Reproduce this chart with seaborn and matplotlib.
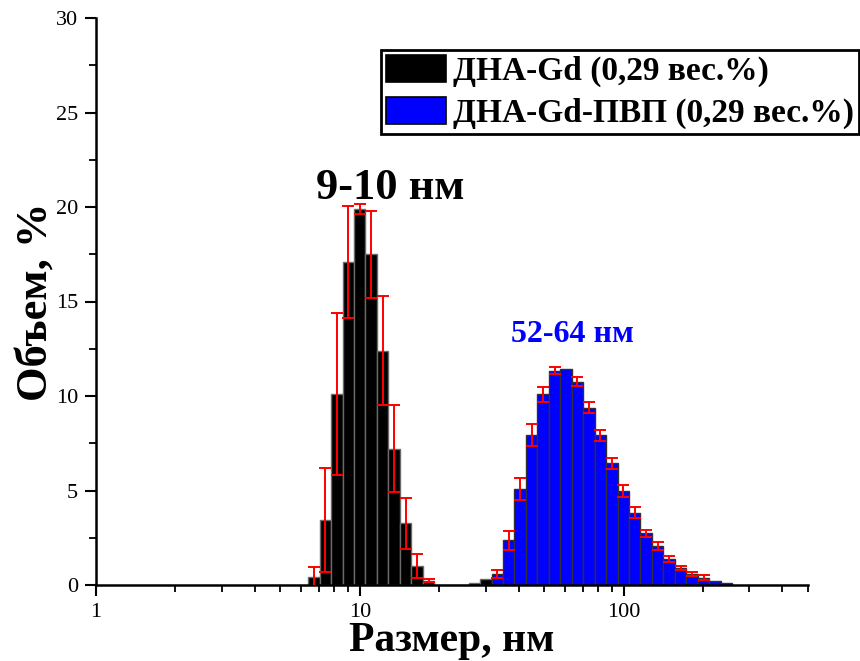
import numpy as np
import pandas as pd
import matplotlib
matplotlib.use("Agg")
import matplotlib.pyplot as plt
import seaborn as sns
from matplotlib.patches import Patch
from matplotlib.ticker import FixedLocator, LogLocator, MultipleLocator, NullFormatter, FixedFormatter

# Size distribution by volume: bin centres (nm), volume fraction (%), scatter (%)
size_gd = [6.70, 7.41, 8.19, 9.05, 10.0, 11.05, 12.21, 13.50, 14.92, 16.49, 18.22, 27.18, 30.04]
vol_gd = [0.42, 3.44, 10.1, 17.1, 19.9, 17.5, 12.4, 7.2, 3.27, 1.0, 0.22, 0.12, 0.32]
err_gd = [0.55, 2.73, 4.28, 2.95, 0.25, 2.3, 2.9, 2.3, 1.35, 0.63, 0.08, 0.0, 0.0]

size_pvp = [33.20, 36.69, 40.55, 44.82, 49.53, 54.74, 60.50, 66.86, 73.89, 81.66, 90.25,
            99.74, 110.2, 121.8, 134.6, 148.8, 164.4, 181.7, 200.9, 222.0, 245.3]
vol_pvp = [0.6, 2.36, 5.08, 7.92, 10.09, 11.34, 11.43, 10.76, 9.38, 7.92, 6.44,
           4.97, 3.83, 2.73, 2.06, 1.36, 0.88, 0.56, 0.39, 0.23, 0.12]
err_pvp = [0.21, 0.49, 0.6, 0.59, 0.39, 0.2, 0.0, 0.25, 0.29, 0.29, 0.3,
           0.3, 0.29, 0.18, 0.2, 0.16, 0.1, 0.11, 0.12, 0.0, 0.0]

labels = ["ДНА-Gd (0,29 вес.%)", "ДНА-Gd-ПВП (0,29 вес.%)"]
colors = ["#000000", "#0000ff"]
peak_gd = "9-10 нм"
peak_pvp = "52-64 нм"
x_label = "Размер, нм"
y_label = "Объем, %"
x_ticks = [1, 10, 100]
x_ticklabels = ["1", "10", "100"]

sns.set_theme(style="ticks")
plt.rcParams["font.family"] = ["Liberation Serif", "DejaVu Serif"]
plt.rcParams["text.color"] = "black"
plt.rcParams["axes.labelcolor"] = "black"
plt.rcParams["xtick.color"] = "black"
plt.rcParams["ytick.color"] = "black"

fig = plt.figure(figsize=(8.6, 6.61), dpi=100)
ax = fig.add_axes([96 / 860, 1 - 585 / 661, (808 - 96) / 860, (585 - 18) / 661])

# log10 width of one size bin
step = 0.04343

def draw_series(sizes, vols, color, edge):
    df = pd.DataFrame({"size": sizes, "vol": vols})
    lo = np.log10(sizes[0]) - step / 2
    hi = np.log10(sizes[-1]) + step / 2
    sns.histplot(data=df, x="size", weights="vol", log_scale=True,
                 binwidth=step, binrange=(lo, hi), stat="count",
                 color=color, alpha=1, edgecolor=edge, linewidth=1.0,
                 element="bars", fill=True, ax=ax, zorder=2)

draw_series(size_gd, vol_gd, colors[0], "#6a6a6a")
draw_series(size_pvp, vol_pvp, colors[1], "#303030")

for s, v, e in ((size_gd, vol_gd, err_gd), (size_pvp, vol_pvp, err_pvp)):
    s, v, e = np.array(s), np.array(v), np.array(e)
    m = e > 0
    ax.errorbar(s[m], v[m], yerr=e[m], fmt="none", ecolor="#ff0000",
                elinewidth=1.4, capsize=4, capthick=1.4, zorder=3)

ax.set_xscale("log")
ax.set_xlim(1, 500)
ax.set_ylim(0, 30)

ax.xaxis.set_major_locator(FixedLocator(x_ticks))
ax.xaxis.set_major_formatter(FixedFormatter(x_ticklabels))
ax.xaxis.set_minor_locator(LogLocator(base=10, subs=np.arange(2, 10)))
ax.xaxis.set_minor_formatter(NullFormatter())
ax.yaxis.set_major_locator(MultipleLocator(5))
ax.yaxis.set_minor_locator(MultipleLocator(2.5))

ax.tick_params(axis="both", which="major", direction="out", length=8, width=1.5,
               labelsize=16, color="black", labelcolor="black", pad=5)
ax.tick_params(axis="both", which="minor", direction="out", length=5, width=1.3,
               color="black")

sns.despine(ax=ax, top=True, right=True)
for side in ("left", "bottom"):
    ax.spines[side].set_linewidth(1.8)
    ax.spines[side].set_color("black")

ax.set_xlabel(x_label, fontsize=30, fontweight="bold", labelpad=0)
ax.set_ylabel(y_label, fontsize=32, fontweight="bold", labelpad=0)

ax.text(13.0, 20.4, peak_gd, fontsize=32, fontweight="bold", color="black",
        ha="center", va="baseline")
ax.text(63.8, 12.86, peak_pvp, fontsize=23, fontweight="bold", color="#0000ff",
        ha="center", va="baseline")

handles = [Patch(facecolor=colors[0], edgecolor="black", linewidth=1.2),
           Patch(facecolor=colors[1], edgecolor="black", linewidth=1.2)]
leg = fig.legend(handles, labels, loc="upper left",
                 bbox_to_anchor=(381 / 860, 1 - 50 / 661), bbox_transform=fig.transFigure,
                 borderaxespad=0, borderpad=0.15, handlelength=1.8, handleheight=0.85,
                 handletextpad=0.2, labelspacing=0.3, fancybox=False, framealpha=1,
                 edgecolor="black", prop={"size": 24, "weight": "bold"})
leg.get_frame().set_linewidth(2)

fig.savefig("out.png", dpi=100)
